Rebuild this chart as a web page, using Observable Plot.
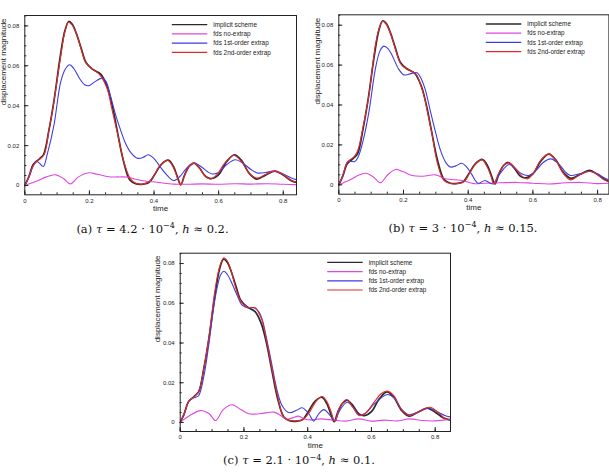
<!DOCTYPE html>
<html>
<head>
<meta charset="utf-8">
<script src="https://cdn.jsdelivr.net/npm/d3@7"></script>
<script src="https://cdn.jsdelivr.net/npm/@observablehq/plot@0.6"></script>
<style>
  html, body { margin: 0; padding: 0; background: #fff; }
  body { position: relative; width: 609px; height: 472px; overflow: hidden; }
  .panel { position: absolute; }
  .panel svg { overflow: visible; }
  .cap { position: absolute; width: 260px; text-align: center; white-space: nowrap;
         font-family: "DejaVu Serif", "Liberation Serif", serif; font-size: 11.5px;
         line-height: 14px; color: #111; }
  .cap i { font-style: italic; }
  .cap sup { font-size: 0.7em; vertical-align: 0; position: relative; top: -0.55em; }
</style>
</head>
<body>
<script>
// Axis ticks
const xTicks = [0, 0.2, 0.4, 0.6, 0.8];
const yTicks = [0, 0.02, 0.04, 0.06, 0.08];
const xMinorTicks = d3.range(0, 0.85, 0.05);
const yMinorTicks = d3.range(0, 0.0851, 0.005);

// Series names and colours
const seriesNames = ["implicit scheme", "fds no-extrap", "fds 1st-order extrap", "fds 2nd-order extrap"];
const seriesColors = ["#2a2a2a", "#e046e0", "#3d3de2", "#e22a2a"];
const seriesWidths = [1.7, 1.1, 1.1, 1.1];

// Reference solution (time, displacement magnitude)
const implicitScheme = [[0,0],[0.012,0.0042],[0.026,0.0105],[0.037,0.0122],[0.047,0.0136],[0.058,0.0155],[0.075,0.028],[0.091,0.0432],[0.11,0.065],[0.124,0.0775],[0.136,0.0822],[0.147,0.0808],[0.16,0.076],[0.175,0.0685],[0.19,0.0615],[0.209,0.0583],[0.235,0.0558],[0.255,0.0495],[0.272,0.039],[0.286,0.0275],[0.305,0.0125],[0.325,0.0028],[0.345,0.0008],[0.367,0.0007],[0.385,0.0016],[0.402,0.0055],[0.422,0.0105],[0.444,0.0127],[0.46,0.0095],[0.472,0.0045],[0.483,0.0004],[0.495,0.0055],[0.51,0.0098],[0.524,0.0112],[0.542,0.0085],[0.56,0.0045],[0.578,0.0035],[0.6,0.0055],[0.625,0.012],[0.649,0.0154],[0.67,0.0127],[0.695,0.006],[0.718,0.0032],[0.745,0.0052],[0.775,0.0072],[0.8,0.0052],[0.825,0.0024],[0.845,0.0013]];

// (a) tau = 4.2e-4, h ~ 0.2
const noExtrapA = [[0,0],[0.038,0.0022],[0.065,0.0042],[0.095,0.0054],[0.12,0.0035],[0.141,0.0008],[0.165,0.0042],[0.198,0.0064],[0.225,0.0056],[0.26,0.0044],[0.29,0.0043],[0.317,0.0042],[0.34,0.0033],[0.36,0.0025],[0.41,0.0016],[0.461,0.0007],[0.5,0.0006],[0.55,0.0008],[0.6,0.0006],[0.65,0.0009],[0.7,0.0007],[0.75,0.0009],[0.8,0.0006],[0.845,0.0004]];
const firstOrderA = [[0,0],[0.012,0.004],[0.025,0.0095],[0.035,0.0122],[0.045,0.0112],[0.057,0.0095],[0.07,0.016],[0.09,0.030],[0.111,0.0518],[0.126,0.0585],[0.139,0.0605],[0.152,0.0585],[0.17,0.0535],[0.185,0.0505],[0.198,0.050],[0.215,0.0518],[0.24,0.0538],[0.252,0.052],[0.265,0.045],[0.28,0.036],[0.296,0.028],[0.312,0.021],[0.327,0.0167],[0.348,0.0137],[0.365,0.014],[0.382,0.0154],[0.4,0.0135],[0.42,0.0092],[0.44,0.0052],[0.461,0.0025],[0.48,0.0045],[0.5,0.0085],[0.523,0.0112],[0.545,0.0095],[0.565,0.007],[0.58,0.0058],[0.6,0.0065],[0.625,0.0105],[0.652,0.0129],[0.675,0.0112],[0.7,0.008],[0.72,0.0063],[0.745,0.0065],[0.771,0.0072],[0.8,0.0058],[0.825,0.0038],[0.845,0.0026]];
const secondOrderA = [[0,0],[0.012,0.004],[0.025,0.0095],[0.035,0.0118],[0.048,0.0135],[0.06,0.0155],[0.075,0.028],[0.09,0.0418],[0.11,0.0635],[0.124,0.077],[0.135,0.0818],[0.147,0.0803],[0.162,0.0751],[0.175,0.068],[0.188,0.0618],[0.209,0.0585],[0.234,0.0551],[0.255,0.0484],[0.27,0.038],[0.286,0.0267],[0.307,0.0117],[0.327,0.0033],[0.345,0.001],[0.365,0.0007],[0.385,0.002],[0.4,0.005],[0.418,0.010],[0.443,0.0125],[0.46,0.009],[0.472,0.004],[0.482,0.0002],[0.495,0.005],[0.508,0.0095],[0.523,0.0112],[0.54,0.0088],[0.558,0.0048],[0.575,0.0033],[0.595,0.0055],[0.62,0.0115],[0.647,0.015],[0.67,0.0122],[0.695,0.006],[0.72,0.0037],[0.745,0.0055],[0.771,0.0072],[0.8,0.0055],[0.82,0.003],[0.835,0.002],[0.845,0.0015]];

// (b) tau = 3e-4, h ~ 0.15
const noExtrapB = [[0,0],[0.035,0.0025],[0.06,0.0048],[0.083,0.0058],[0.105,0.0042],[0.129,0.001],[0.15,0.0048],[0.175,0.0077],[0.2,0.0065],[0.226,0.0047],[0.26,0.0043],[0.299,0.005],[0.33,0.003],[0.38,0.0022],[0.417,0.0006],[0.45,0.0008],[0.5,0.001],[0.55,0.0012],[0.6,0.0008],[0.65,0.0004],[0.7,0.001],[0.75,0.0012],[0.8,0.0006],[0.84,0.0008]];
const firstOrderB = [[0,0],[0.012,0.0045],[0.026,0.0112],[0.035,0.0117],[0.05,0.0117],[0.06,0.014],[0.075,0.022],[0.093,0.0364],[0.113,0.058],[0.127,0.067],[0.139,0.0695],[0.152,0.0683],[0.165,0.0648],[0.185,0.058],[0.201,0.0551],[0.22,0.0556],[0.242,0.0561],[0.255,0.053],[0.268,0.0473],[0.283,0.037],[0.299,0.0264],[0.315,0.017],[0.33,0.0114],[0.345,0.0089],[0.362,0.0095],[0.38,0.0108],[0.395,0.009],[0.41,0.0055],[0.43,0.0008],[0.452,0.0022],[0.468,0.0008],[0.478,0.0005],[0.5,0.006],[0.526,0.0102],[0.545,0.0082],[0.565,0.0055],[0.587,0.0047],[0.61,0.0072],[0.632,0.0112],[0.655,0.013],[0.68,0.0105],[0.7,0.0065],[0.716,0.0047],[0.745,0.0055],[0.776,0.0067],[0.8,0.0055],[0.82,0.0035],[0.84,0.0022]];
const secondOrderB = [[0,0],[0.012,0.0045],[0.026,0.0114],[0.036,0.0127],[0.046,0.0139],[0.058,0.017],[0.075,0.029],[0.093,0.0448],[0.113,0.070],[0.124,0.078],[0.135,0.082],[0.146,0.0805],[0.16,0.0757],[0.175,0.068],[0.191,0.0607],[0.205,0.0585],[0.222,0.0573],[0.242,0.0548],[0.253,0.050],[0.263,0.0448],[0.276,0.035],[0.289,0.0247],[0.304,0.0114],[0.325,0.0022],[0.35,0.0005],[0.37,0.0007],[0.387,0.0015],[0.405,0.006],[0.423,0.0105],[0.443,0.0125],[0.46,0.0085],[0.47,0.0045],[0.479,0.0005],[0.492,0.005],[0.51,0.0098],[0.526,0.011],[0.545,0.0085],[0.565,0.0045],[0.583,0.003],[0.6,0.0055],[0.625,0.0125],[0.65,0.0155],[0.67,0.0125],[0.695,0.0055],[0.716,0.0025],[0.745,0.005],[0.776,0.0068],[0.8,0.005],[0.82,0.0025],[0.84,0.0013]];

// (c) tau = 2.1e-4, h ~ 0.1
const noExtrapC = [[0,0],[0.03,0.0035],[0.064,0.006],[0.09,0.0045],[0.111,0.001],[0.135,0.0065],[0.163,0.0089],[0.19,0.0065],[0.215,0.0044],[0.25,0.0044],[0.294,0.0052],[0.315,0.0035],[0.331,0.0018],[0.35,0.0022],[0.371,0.0032],[0.39,0.0018],[0.41,0.0013],[0.44,0.0018],[0.48,0.0012],[0.52,0.0007],[0.56,0.0018],[0.6,0.0007],[0.64,0.0012],[0.68,0.0008],[0.72,0.0018],[0.76,0.001],[0.8,0.0008],[0.85,0.0018]];
const firstOrderC = [[0,0],[0.012,0.004],[0.027,0.0107],[0.038,0.0122],[0.048,0.0127],[0.058,0.0135],[0.075,0.024],[0.09,0.0396],[0.105,0.058],[0.116,0.068],[0.127,0.0743],[0.137,0.0761],[0.148,0.0745],[0.163,0.0698],[0.18,0.0635],[0.195,0.0589],[0.213,0.0577],[0.23,0.0577],[0.245,0.056],[0.257,0.052],[0.27,0.043],[0.283,0.0329],[0.304,0.0161],[0.318,0.009],[0.331,0.006],[0.345,0.0049],[0.365,0.0062],[0.383,0.0074],[0.395,0.006],[0.404,0.0044],[0.419,0.0007],[0.435,0.0045],[0.451,0.0065],[0.468,0.004],[0.485,0.0007],[0.5,0.006],[0.524,0.0102],[0.545,0.0072],[0.561,0.0039],[0.58,0.0045],[0.61,0.0095],[0.65,0.0141],[0.67,0.0125],[0.695,0.0065],[0.718,0.0039],[0.745,0.0052],[0.78,0.0072],[0.81,0.0052],[0.83,0.0035],[0.85,0.0027]];
const secondOrderC = [[0,0],[0.012,0.004],[0.027,0.0107],[0.038,0.0122],[0.048,0.0136],[0.058,0.0155],[0.075,0.028],[0.09,0.043],[0.105,0.062],[0.116,0.0731],[0.127,0.080],[0.137,0.0829],[0.147,0.0815],[0.158,0.0773],[0.172,0.069],[0.189,0.0614],[0.21,0.058],[0.236,0.0577],[0.247,0.055],[0.257,0.0513],[0.27,0.042],[0.283,0.0312],[0.304,0.0144],[0.325,0.0027],[0.345,0.001],[0.365,0.0008],[0.383,0.0013],[0.395,0.003],[0.409,0.006],[0.428,0.011],[0.446,0.0131],[0.46,0.0105],[0.472,0.006],[0.485,0.0007],[0.5,0.0075],[0.522,0.0116],[0.54,0.008],[0.561,0.0035],[0.58,0.0045],[0.61,0.0105],[0.63,0.0145],[0.65,0.0158],[0.67,0.0135],[0.695,0.0065],[0.718,0.0035],[0.745,0.005],[0.783,0.0077],[0.81,0.005],[0.83,0.002],[0.85,0.0013]];

const panels = [
  {left: 0, top: 0, width: 305, height: 215, mL: 24.3, mR: 9, mT: 15, mB: 20.7, xMax: 0.841, yMin: -0.00466, yMax: 0.0852,
   series: [implicitScheme, noExtrapA, firstOrderA, secondOrderA], yLabelDx: -21,
   caption: "(a) <i>τ</i> = 4.2 · 10<sup>−4</sup>, <i>h</i> ≈ 0.2.", capX: 152.5, capY: 228.7},
  {left: 305, top: 0, width: 304, height: 215, mL: 33.3, mR: 0.6, mT: 14.3, mB: 21.3, xMax: 0.835, yMin: -0.0047, yMax: 0.0852,
   series: [implicitScheme, noExtrapB, firstOrderB, secondOrderB], yLabelDx: -21.8,
   caption: "(b) <i>τ</i> = 3 · 10<sup>−4</sup>, <i>h</i> ≈ 0.15.", capX: 463, capY: 227.7},
  {left: 140, top: 240, width: 320, height: 205, mL: 39.7, mR: 10, mT: 12.7, mB: 14, xMax: 0.848, yMin: -0.00453, yMax: 0.0852,
   series: [implicitScheme, noExtrapC, firstOrderC, secondOrderC], yLabelDx: -23,
   caption: "(c) <i>τ</i> = 2.1 · 10<sup>−4</sup>, <i>h</i> ≈ 0.1.", capX: 299, capY: 460}
];

const fmt = d => d === 0 ? "0" : String(d);

for (const p of panels) {
  const lines = p.series.map((data, i) => Plot.line(data, {
    x: d => d[0], y: d => d[1],
    stroke: seriesColors[i], strokeWidth: seriesWidths[i],
    curve: "catmull-rom", clip: true
  }));

  const chart = Plot.plot({
    width: p.width, height: p.height,
    marginLeft: p.mL, marginRight: p.mR, marginTop: p.mT, marginBottom: p.mB,
    x: {domain: [0, p.xMax]},
    y: {domain: [p.yMin, p.yMax]},
    style: {fontFamily: "'Liberation Sans', Arial, sans-serif", fontSize: "6px", color: "#222", background: "transparent", overflow: "visible"},
    marks: [
      ...lines,
      Plot.frame({stroke: "#222", strokeWidth: 1}),
      // tick labels
      Plot.axisX(xTicks, {tickSize: 0, tickPadding: 3.5, tickFormat: fmt, label: null}),
      Plot.axisY(yTicks, {tickSize: 0, tickPadding: 5.5, tickFormat: fmt, label: null}),
      // inward major and minor ticks
      Plot.axisX(xTicks, {tickSize: 4, dy: -4, text: null, label: null, stroke: "#222"}),
      Plot.axisX(xMinorTicks, {tickSize: 2, dy: -2, text: null, label: null, stroke: "#222"}),
      Plot.axisY(yTicks, {tickSize: 4, dx: 4, text: null, label: null, stroke: "#222"}),
      Plot.axisY(yMinorTicks, {tickSize: 2, dx: 2, text: null, label: null, stroke: "#222"}),
      Plot.text(["time"], {frameAnchor: "bottom", dy: 16, fontSize: 8, fill: "#222"}),
      Plot.text(["displacement magnitude"], {frameAnchor: "left", dx: p.yLabelDx, rotate: -90, fontSize: 8, fill: "#222"})
    ]
  });

  // legend in the upper right of the frame
  const [x0] = chart.scale("x").range;
  const yTop = chart.scale("y").range[1];
  const legend = d3.select(chart).append("g")
    .attr("font-size", 6.4).attr("fill", "#222").attr("text-anchor", "start");
  seriesNames.forEach((name, i) => {
    const yy = yTop + 9.7 + 9.2 * i;
    legend.append("line")
      .attr("x1", x0 + 147.5).attr("x2", x0 + 183)
      .attr("y1", yy).attr("y2", yy)
      .attr("stroke", seriesColors[i]).attr("stroke-width", i === 0 ? 1.3 : 1.2);
    legend.append("text")
      .attr("x", x0 + 189).attr("y", yy).attr("dy", "0.35em")
      .text(name);
  });

  const div = document.createElement("div");
  div.className = "panel";
  div.style.left = p.left + "px";
  div.style.top = p.top + "px";
  div.style.width = p.width + "px";
  div.style.height = p.height + "px";
  div.appendChild(chart);
  document.body.appendChild(div);

  const cap = document.createElement("div");
  cap.className = "cap";
  cap.style.left = (p.capX - 130) + "px";
  cap.style.top = (p.capY - 7) + "px";
  cap.innerHTML = p.caption;
  document.body.appendChild(cap);
}
</script>
</body>
</html>
